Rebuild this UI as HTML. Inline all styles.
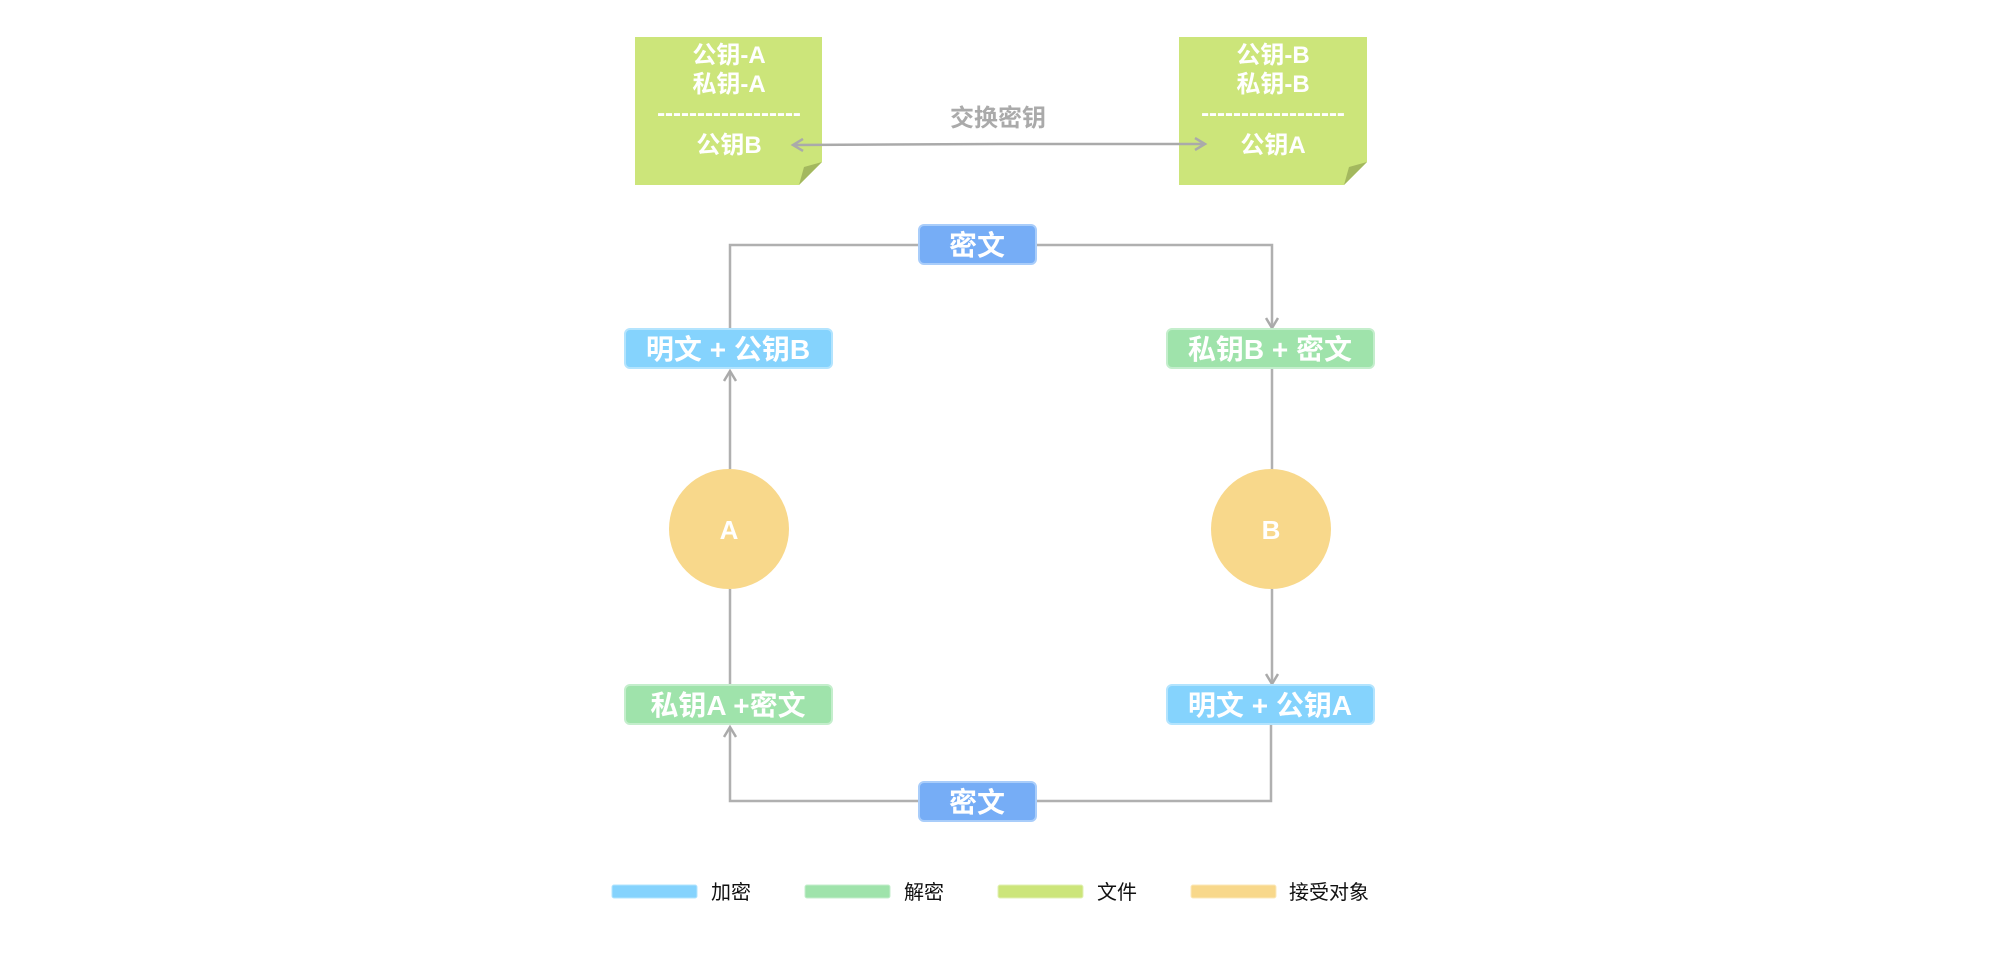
<!DOCTYPE html>
<html><head><meta charset="utf-8"><style>
html,body{margin:0;padding:0;background:#fff}
svg{display:block}
text{font-family:"Liberation Sans","Noto Sans CJK SC",sans-serif}
</style></head><body>
<svg width="1998" height="957" viewBox="0 0 1998 957" xmlns="http://www.w3.org/2000/svg">
<defs>
<marker id="ar" markerWidth="14" markerHeight="14" refX="11" refY="7" orient="auto" markerUnits="userSpaceOnUse">
<path d="M1,1 L11,7 L1,13" fill="none" stroke="#aaa" stroke-width="2.5"/>
</marker>
</defs>
<!-- notes -->
<path d="M635,37 H822 V162 L799,185 H635 Z" fill="#cce57a"/>
<path d="M822,162 L799,185 L804,167 Z" fill="#a3b85e"/>
<path d="M1179,37 H1367 V162 L1344,185 H1179 Z" fill="#cce57a"/>
<path d="M1367,162 L1344,185 L1349,167 Z" fill="#a3b85e"/>
<g fill="#fff" font-weight="bold" font-size="24" text-anchor="middle">
<text x="729" y="63">公钥-A</text>
<text x="729" y="92">私钥-A</text>
<text x="729" y="121">------------------</text>
<text x="729" y="153">公钥B</text>
<text x="1273" y="63">公钥-B</text>
<text x="1273" y="92">私钥-B</text>
<text x="1273" y="121">------------------</text>
<text x="1273" y="153">公钥A</text>
</g>
<line x1="1000" y1="144" x2="1205" y2="144" stroke="#aaa" stroke-width="2.5" marker-end="url(#ar)"/>
<line x1="1000" y1="144" x2="793" y2="145" stroke="#aaa" stroke-width="2.5" marker-end="url(#ar)"/>
<text x="998" y="126" fill="#aaa" font-weight="bold" font-size="24" text-anchor="middle">交换密钥</text>
<!-- connectors -->
<g fill="none" stroke="#b0b0b0" stroke-width="2.5">
<polyline points="919,245 730,245 730,329"/>
<polyline points="1036,245 1272,245 1272,328" marker-end="url(#ar)"/>
<line x1="730" y1="469" x2="730" y2="371" marker-end="url(#ar)"/>
<line x1="1272" y1="368" x2="1272" y2="470"/>
<line x1="730" y1="589" x2="730" y2="685"/>
<line x1="1272" y1="589" x2="1272" y2="684" marker-end="url(#ar)"/>
<polyline points="919,801 730,801 730,727" marker-end="url(#ar)"/>
<polyline points="1036,801 1271,801 1271,724"/>
</g>
<!-- boxes -->
<g stroke-width="2">
<rect x="919" y="225" width="117" height="39" rx="5" fill="#76adf6" stroke="#a9cdfa"/>
<rect x="919" y="782" width="117" height="39" rx="5" fill="#76adf6" stroke="#a9cdfa"/>
<rect x="625" y="329" width="207" height="39" rx="5" fill="#85d3fd" stroke="#b3e4fe"/>
<rect x="1167" y="329" width="207" height="39" rx="5" fill="#9fe3ab" stroke="#c4eecc"/>
<rect x="625" y="685" width="207" height="39" rx="5" fill="#9fe3ab" stroke="#c4eecc"/>
<rect x="1167" y="685" width="207" height="39" rx="5" fill="#85d3fd" stroke="#b3e4fe"/>
</g>
<circle cx="729" cy="529" r="60" fill="#f8d88b"/>
<circle cx="1271" cy="529" r="60" fill="#f8d88b"/>
<g fill="#fff" font-weight="bold" font-size="28" text-anchor="middle">
<text x="977" y="255">密文</text>
<text x="977" y="812">密文</text>
<text x="728" y="359">明文 + 公钥B</text>
<text x="1270" y="359">私钥B + 密文</text>
<text x="728" y="715">私钥A +密文</text>
<text x="1270" y="715">明文 + 公钥A</text>
<text x="729" y="539" font-size="26">A</text>
<text x="1271" y="539" font-size="26">B</text>
</g>
<!-- legend -->
<rect x="612" y="885" width="85" height="13" rx="2" fill="#85d3fd" stroke="#b3e4fe"/>
<rect x="805" y="885" width="85" height="13" rx="2" fill="#9fe3ab" stroke="#c4eecc"/>
<rect x="998" y="885" width="85" height="13" rx="2" fill="#cce57a" stroke="#e2f0b5"/>
<rect x="1191" y="885" width="85" height="13" rx="2" fill="#f8d88b" stroke="#fbe8bb"/>
<g fill="#111" font-size="20">
<text x="711" y="899">加密</text>
<text x="904" y="899">解密</text>
<text x="1097" y="899">文件</text>
<text x="1289" y="899">接受对象</text>
</g>
</svg>
</body></html>
